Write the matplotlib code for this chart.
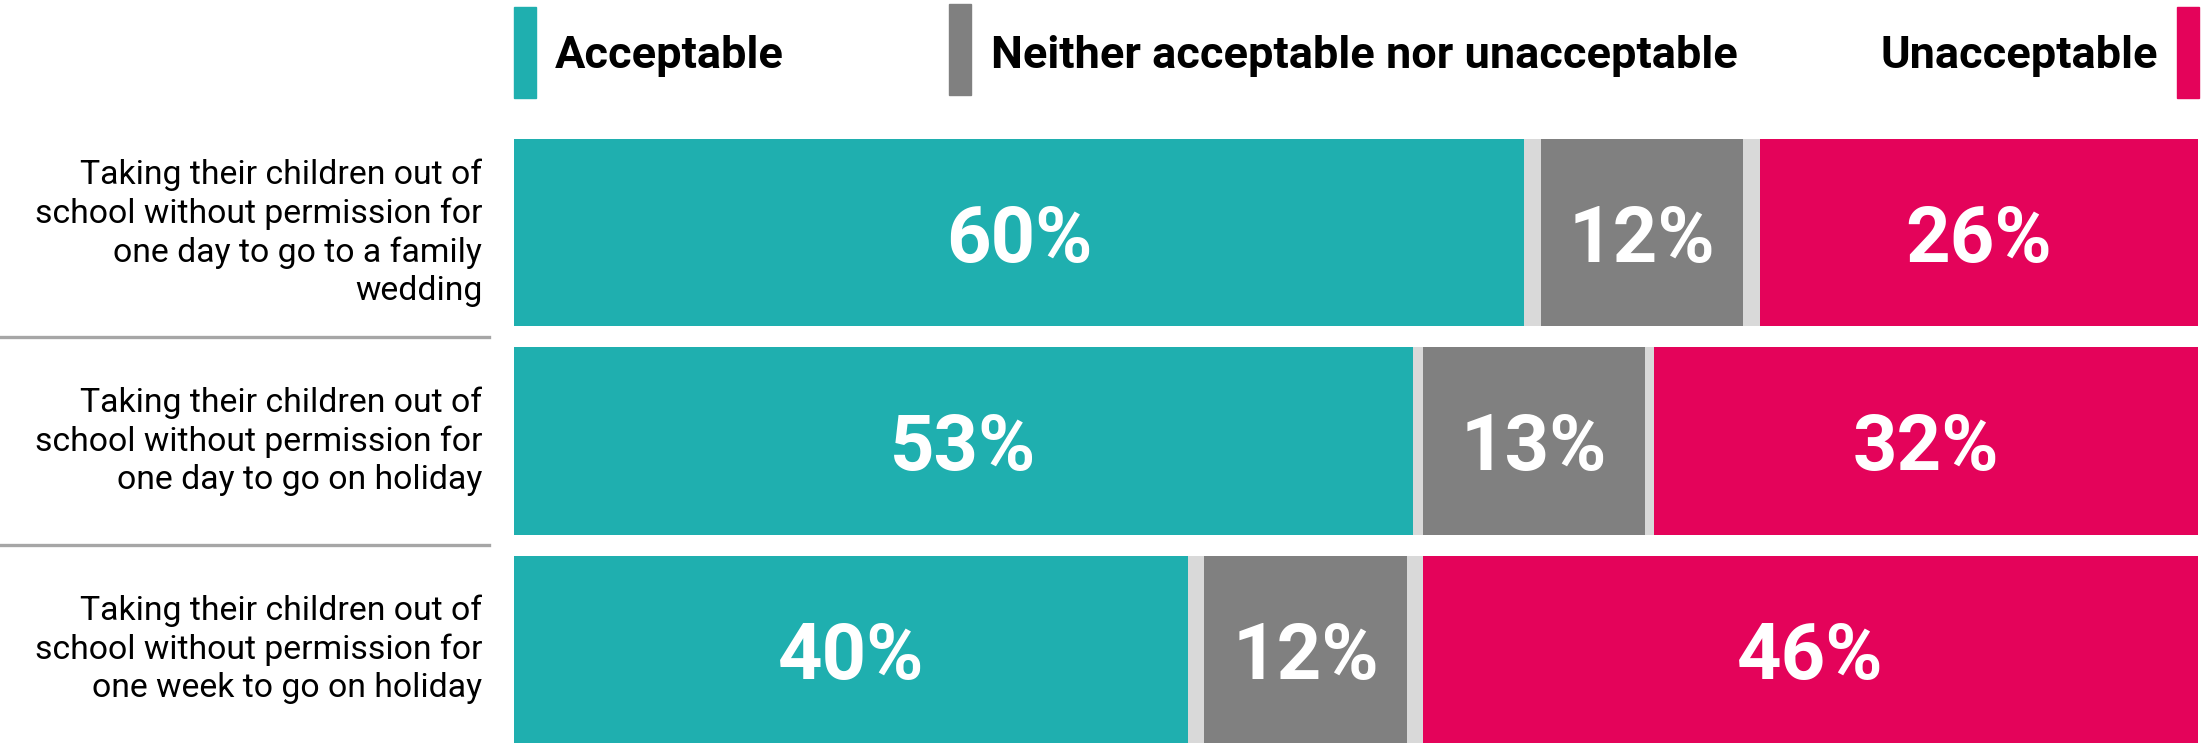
import matplotlib
matplotlib.use("Agg")
import matplotlib.pyplot as plt
from matplotlib.patches import Rectangle
from matplotlib.transforms import blended_transform_factory

plt.rcParams['font.family'] = ['Roboto', 'DejaVu Sans']

# data
statements = [
    "Taking their children out of\nschool without permission for\none day to go to a family\nwedding",
    "Taking their children out of\nschool without permission for\none day to go on holiday",
    "Taking their children out of\nschool without permission for\none week to go on holiday",
]
acceptable = [60, 53.4, 40]
neither = [12, 13.2, 12]
unacceptable = [26, 32.3, 46]
series_names = ["Acceptable", "Neither acceptable nor unacceptable", "Unacceptable"]

colors = ["#1fafaf", "#808080", "#e4035a"]
gap_color = "#d9d9d9"

fig = plt.figure(figsize=(22.02, 7.45), dpi=100)
ax = fig.add_axes([0.2334, 0.0027, 0.7648, 0.8107])

bar_h = 0.9
for i in range(len(statements)):
    gap = (100 - acceptable[i] - neither[i] - unacceptable[i]) / 2
    segs = [(acceptable[i], colors[0], True),
            (gap, gap_color, False),
            (neither[i], colors[1], True),
            (gap, gap_color, False),
            (unacceptable[i], colors[2], True)]
    left = 0
    for val, col, lab in segs:
        ax.barh(i, val, left=left, height=bar_h, color=col, edgecolor='none')
        if lab:
            ax.text(left + val / 2, i + 0.04, f"{val:.0f}%", ha='center', va='center',
                    color='white', fontsize=56, fontweight='bold')
        left += val

ax.set_xlim(0, 100)
ax.set_ylim(len(statements) - 1 + bar_h / 2, -bar_h / 2)
ax.axis('off')

# row labels and separators on the left
trans = blended_transform_factory(fig.transFigure, ax.transData)
for i, s in enumerate(statements):
    ax.text(0.219, i, s, transform=trans, ha='right', va='center',
            multialignment='right', fontsize=24.3, color='black',
            linespacing=1.25)
for i in range(len(statements) - 1):
    ax.plot([0, 0.222], [i + 0.5, i + 0.5], transform=trans, color='#a6a6a6',
            lw=2.4, clip_on=False)

# legend across the top
legend_x = [0.2334, 0.431, 0.9885]
legend_y = [0.868, 0.872, 0.868]
text_x = [0.252, 0.450, 0.980]
for k, name in enumerate(series_names):
    fig.patches.append(Rectangle((legend_x[k], legend_y[k]), 0.0100, 0.122,
                                 transform=fig.transFigure, color=colors[k]))
    ha = 'right' if k == 2 else 'left'
    fig.text(text_x[k], 0.925, name, ha=ha, va='center', fontsize=32.5,
             fontweight='bold', color='black')

fig.savefig("out.png", dpi=100, facecolor='white')
